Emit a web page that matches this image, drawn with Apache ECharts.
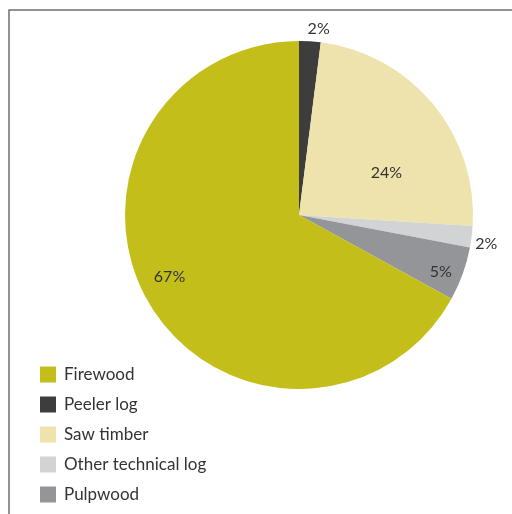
<!DOCTYPE html>
<html>
<head>
<meta charset="utf-8">
<script src="https://cdn.jsdelivr.net/npm/echarts@6/dist/echarts.min.js"></script>
<style>
  html, body { margin: 0; padding: 0; background: #fff; }
  #chart { width: 512px; height: 514px; }
</style>
</head>
<body>
<div id="chart"></div>
<script>
// Wood product shares (%), drawn clockwise from 12 o'clock
const categories = ['Peeler log', 'Saw timber', 'Other technical log', 'Pulpwood', 'Firewood'];
const shares = [2, 24, 2, 5, 67];
const legendOrder = ['Firewood', 'Peeler log', 'Saw timber', 'Other technical log', 'Pulpwood'];

const colors = {
  'Firewood': '#C3BE1A',
  'Peeler log': '#3D3D3D',
  'Saw timber': '#EEE3AC',
  'Other technical log': '#D2D3D5',
  'Pulpwood': '#939598'
};
// nudges of each percentage label away from the slice mid-radius
const labelOffsets = {
  'Peeler log': [14, -96],
  'Saw timber': [18, 15],
  'Other technical log': [98, 18],
  'Pulpwood': [57, 26],
  'Firewood': [-52, 16]
};

const FONT = 'Lato, "Open Sans", sans-serif';

const chart = echarts.init(document.getElementById('chart'), null, { renderer: 'canvas' });

chart.setOption({
  animation: false,
  backgroundColor: '#ffffff',
  graphic: [{
    type: 'polyline',
    shape: { points: [[9, 520], [9, 10], [520, 10]] },
    style: { stroke: '#6f6f6f', lineWidth: 1.5, fill: null },
    silent: true
  }],
  legend: {
    orient: 'vertical',
    left: 35,
    top: 361,
    itemWidth: 16,
    itemHeight: 16,
    itemGap: 13,
    icon: 'rect',
    data: legendOrder,
    textStyle: {
      fontFamily: FONT,
      fontSize: 17,
      lineHeight: 16,
      color: '#333333',
      padding: [0, 0, 0, 3]
    }
  },
  series: [{
    type: 'pie',
    center: [299, 215],
    radius: [0, 174],
    startAngle: 90,
    clockwise: true,
    avoidLabelOverlap: false,
    emphasis: { disabled: true },
    label: {
      show: true,
      position: 'inside',
      fontFamily: FONT,
      fontSize: 16,
      color: '#333333',
      formatter: p => p.value + '%'
    },
    labelLine: { show: false },
    itemStyle: { borderWidth: 0 },
    data: categories.map((name, i) => ({
      name: name,
      value: shares[i],
      itemStyle: { color: colors[name] },
      label: { offset: labelOffsets[name] }
    }))
  }]
});
</script>
</body>
</html>
